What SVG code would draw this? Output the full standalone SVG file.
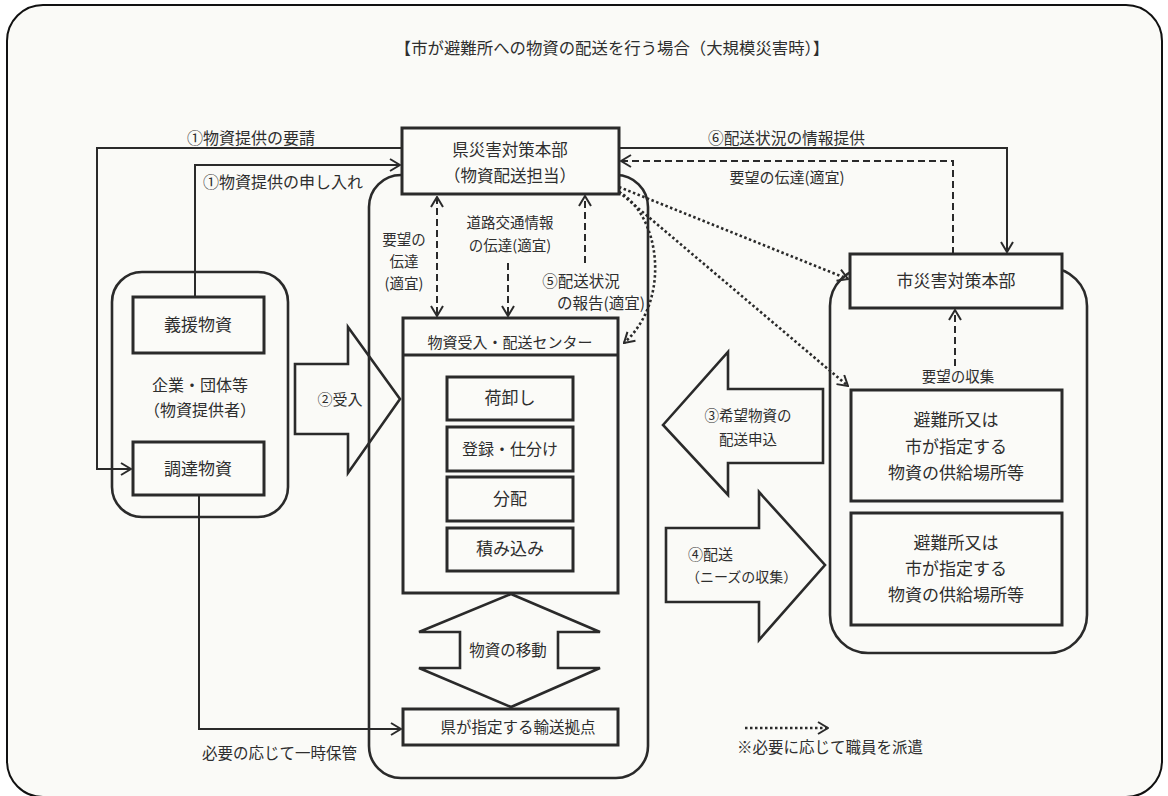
<svg xmlns="http://www.w3.org/2000/svg" width="1168" height="796" viewBox="0 0 1168 796">
<defs>
<style>
text{font-family:"Noto Sans CJK JP","Noto Sans",sans-serif;fill:#2e2e2e}
.box{fill:#fbfbf8;stroke:#2a2a2a;stroke-width:3}
.region{fill:none;stroke:#2a2a2a;stroke-width:2.6}
.big{fill:none;stroke:#2a2a2a;stroke-width:2.6;stroke-linejoin:miter}
.ln{fill:none;stroke:#2a2a2a;stroke-width:2}
.dash{fill:none;stroke:#2a2a2a;stroke-width:2;stroke-dasharray:7 4}
.dot{fill:none;stroke:#2a2a2a;stroke-width:2.6;stroke-dasharray:2.5 2.5}
.c{text-anchor:middle}
</style>
<marker id="ah" viewBox="0 0 12 14" refX="11" refY="7" markerWidth="12" markerHeight="14" markerUnits="userSpaceOnUse" orient="auto-start-reverse">
<path d="M1,1 L11,7 L1,13" fill="none" stroke="#2a2a2a" stroke-width="2" stroke-dasharray="none"/>
</marker>
</defs>
<rect x="0" y="0" width="1168" height="796" fill="#ffffff"/>
<rect x="7" y="5" width="1155" height="792" rx="36" ry="36" fill="#fafaf7" stroke="#111" stroke-width="2"/>
<text x="612" y="54" class="c" font-size="16.4">【市が避難所への物資の配送を行う場合（大規模災害時）】</text>

<g id="regions">
<rect class="region" x="112" y="272" width="176" height="245" rx="30"/>
<rect class="region" x="369" y="175" width="279" height="603" rx="32"/>
<rect class="region" x="830" y="268" width="257" height="385" rx="38"/>
</g>

<g id="connectors">
<polyline class="ln" points="402,148 97,148 97,469 131,469" marker-end="url(#ah)"/>
<polyline class="ln" points="195,297 195,165 400,165" marker-end="url(#ah)"/>
<polyline class="ln" points="199,495 199,729 401,729" marker-end="url(#ah)"/>
<polyline class="ln" points="619,148 1007,148 1007,252" marker-end="url(#ah)"/>
<polyline class="dash" points="953,254 953,161 621,161" marker-end="url(#ah)"/>
<line class="dash" x1="955" y1="366" x2="955" y2="310" marker-end="url(#ah)"/>
<line class="dash" x1="437" y1="197" x2="437" y2="316" marker-start="url(#ah)" marker-end="url(#ah)"/>
<line class="dash" x1="508" y1="263" x2="508" y2="316" marker-end="url(#ah)"/>
<line class="dash" x1="585" y1="263" x2="585" y2="196" marker-end="url(#ah)"/>
<line class="dot" x1="619" y1="187" x2="848" y2="279" marker-end="url(#ah)"/>
<line class="dot" x1="619" y1="192" x2="848" y2="386" marker-end="url(#ah)"/>
<path class="dot" d="M619,192 C660,215 672,300 624,343" marker-end="url(#ah)"/>
<line class="dot" x1="745" y1="728" x2="828" y2="728" marker-end="url(#ah)"/>
</g>

<g id="arrow-ukeire">
<polygon class="big" points="295,364 348,364 348,327 400,399 348,473 348,434 295,434"/>
<text x="340" y="405" class="c" font-size="15">②受入</text>
</g>
<g id="arrow-moushikomi">
<polygon class="big" points="663,425 728,352 728,389 823,389 823,463 728,463 728,495"/>
<text x="748" y="421" class="c" font-size="14.5">③希望物資の</text>
<text x="748" y="445" class="c" font-size="14.5">配送申込</text>
</g>
<g id="arrow-haisou">
<polygon class="big" points="666,528 759,528 759,492 825,565 759,640 759,602 666,602"/>
<text x="688" y="560" font-size="15">④配送</text>
<text x="686" y="582" font-size="14">（ニーズの収集）</text>
</g>
<g id="arrow-idou">
<polygon class="big" points="511,594 600,632 558,632 558,668 600,668 511,707 419,668 460,668 460,632 419,632"/>
<text x="508" y="656" class="c" font-size="15.5">物資の移動</text>
</g>

<g id="ken-honbu">
<rect class="box" x="402" y="128" width="217" height="66"/>
<text x="510" y="156" class="c" font-size="16.5">県災害対策本部</text>
<text x="510" y="182" class="c" font-size="16.5">（物資配送担当）</text>
</g>

<g id="gienbusshi">
<rect class="box" x="133" y="297" width="131" height="56"/>
<text x="198" y="331" class="c" font-size="17">義援物資</text>
</g>
<g id="kigyou">
<text x="200" y="391" class="c" font-size="16">企業・団体等</text>
<text x="200" y="416" class="c" font-size="16">（物資提供者）</text>
</g>
<g id="choutatsu">
<rect class="box" x="133" y="442" width="131" height="53"/>
<text x="198" y="475" class="c" font-size="17">調達物資</text>
</g>

<g id="center">
<rect class="box" x="403" y="318" width="215" height="275"/>
<line x1="403" y1="355" x2="618" y2="355" stroke="#2a2a2a" stroke-width="3"/>
<text x="510" y="348" class="c" font-size="15">物資受入・配送センター</text>
</g>
<g id="niorosi">
<rect class="box" x="447" y="377" width="126" height="43"/>
<text x="510" y="404" class="c" font-size="17">荷卸し</text>
</g>
<g id="touroku">
<rect class="box" x="447" y="427" width="126" height="44"/>
<text x="510" y="455" class="c" font-size="16">登録・仕分け</text>
</g>
<g id="bunpai">
<rect class="box" x="447" y="477" width="126" height="44"/>
<text x="510" y="505" class="c" font-size="17">分配</text>
</g>
<g id="tsumikomi">
<rect class="box" x="447" y="528" width="126" height="43"/>
<text x="510" y="555" class="c" font-size="17">積み込み</text>
</g>

<g id="kyoten">
<rect class="box" x="403" y="709" width="215" height="36"/>
<text x="518" y="733" class="c" font-size="15.5">県が指定する輸送拠点</text>
</g>

<g id="shi-honbu">
<rect class="box" x="850" y="254" width="212" height="54"/>
<text x="956" y="287" class="c" font-size="17">市災害対策本部</text>
</g>
<g id="hinanjo1">
<rect class="box" x="851" y="390" width="211" height="111"/>
<text x="956" y="426" class="c" font-size="17">避難所又は</text>
<text x="956" y="453" class="c" font-size="17">市が指定する</text>
<text x="956" y="479" class="c" font-size="17">物資の供給場所等</text>
</g>
<g id="hinanjo2">
<rect class="box" x="851" y="513" width="211" height="112"/>
<text x="956" y="549" class="c" font-size="17">避難所又は</text>
<text x="956" y="575" class="c" font-size="17">市が指定する</text>
<text x="956" y="601" class="c" font-size="17">物資の供給場所等</text>
</g>

<g id="labels">
<text x="187" y="144" font-size="16">①物資提供の要請</text>
<text x="203" y="188" font-size="16">①物資提供の申し入れ</text>
<text x="708" y="144" font-size="15.7">⑥配送状況の情報提供</text>
<text x="787" y="183" class="c" font-size="15">要望の伝達(適宜)</text>
<text x="404" y="245" class="c" font-size="14.5">要望の</text>
<text x="404" y="267" class="c" font-size="14.5">伝達</text>
<text x="404" y="289" class="c" font-size="14.5">(適宜)</text>
<text x="510" y="228" class="c" font-size="14.5">道路交通情報</text>
<text x="510" y="251" class="c" font-size="14.5">の伝達(適宜)</text>
<text x="581" y="287" class="c" font-size="15.5">⑤配送状況</text>
<text x="601" y="309" class="c" font-size="15.5">の報告(適宜)</text>
<text x="958" y="382" class="c" font-size="14.5">要望の収集</text>
<text x="202" y="759" font-size="15.5">必要の応じて一時保管</text>
<text x="737" y="753" font-size="15.5">※必要に応じて職員を派遣</text>
</g>
</svg>
